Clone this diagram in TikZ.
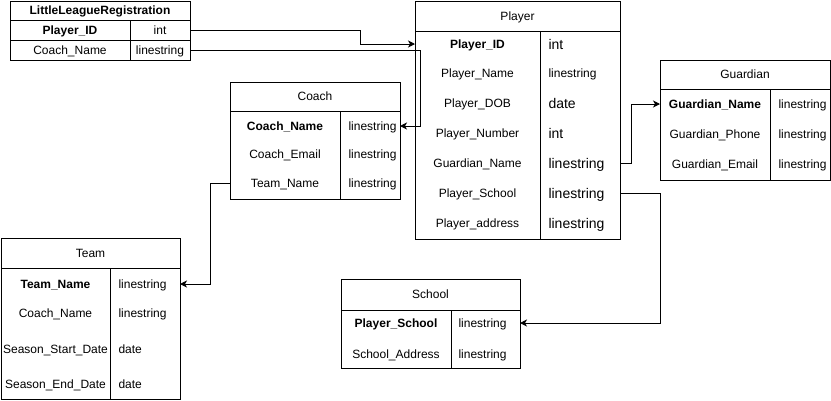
\documentclass[tikz,border=0pt]{standalone}
\usepackage{fontspec}
\setmainfont{Liberation Sans}
\usetikzlibrary{arrows.meta}
\begin{document}
\begin{tikzpicture}[x=1pt,y=-1pt,line width=1pt,
  frame/.style={draw,anchor=north west,inner sep=0pt,outer sep=0pt},
  txt/.style={inner sep=0pt,text height=8.6pt,text depth=0pt,font=\fontsize{12}{14}\selectfont},
  big/.style={inner sep=0pt,text height=10pt,text depth=0pt,font=\fontsize{14}{16}\selectfont},
  tl/.style={txt,anchor=west},
  bl/.style={big,anchor=west},
  conn/.style={draw,line width=1pt,-{Stealth[length=7pt,width=7pt,inset=2pt]}}]
\useasboundingbox (0,0) rectangle (831,400);
\fill[white] (0,0) rectangle (831,400);

% LittleLeagueRegistration
\node[frame,minimum width=180pt,minimum height=59pt] (llr) at (10,1) {};
\draw (10,20) -- (190,20);
\draw (10,40) -- (190,40);
\draw (130,20) -- (130,60);
\node[txt] (llrt) at (100,10.5) {\textbf{LittleLeagueRegistration}};
\node[txt] (llrpid) at (70,30) {\textbf{Player\_ID}};
\node[txt] (llrpidt) at (160,30) {int};
\node[txt] (llrcn) at (70,50) {Coach\_Name};
\node[txt] (llrcnt) at (160,50) {linestring};

% Player
\node[frame,minimum width=205pt,minimum height=238pt] (player) at (415,1) {};
\draw (415,31) -- (620,31);
\draw (540,31) -- (540,239);
\node[txt] (playert) at (477.5+40,16) {Player};
\node[txt] (pid) at (477.5,44) {\textbf{Player\_ID}};
\node[txt] (pname) at (477.5,73) {Player\_Name};
\node[txt] (pdob) at (477.5,103) {Player\_DOB};
\node[txt] (pnum) at (477.5,133) {Player\_Number};
\node[txt] (pguard) at (477.5,163) {Guardian\_Name};
\node[txt] (pschool) at (477.5,193) {Player\_School};
\node[txt] (paddr) at (477.5,223) {Player\_address};
\node[bl] (pidt) at (548,44) {int};
\node[tl] (pnamet) at (548,73) {linestring};
\node[bl] (pdobt) at (548,103) {date};
\node[bl] (pnumt) at (548,133) {int};
\node[bl] (pguardt) at (548,163) {linestring};
\node[bl] (pschoolt) at (548,193) {linestring};
\node[bl] (paddrt) at (548,223) {linestring};

% Coach
\node[frame,minimum width=170pt,minimum height=117pt] (coach) at (230,82) {};
\draw (230,111) -- (400,111);
\draw (340,111) -- (340,199);
\node[txt] (coacht) at (315,96.5) {Coach};
\node[txt] (ccn) at (285,126) {\textbf{Coach\_Name}};
\node[txt] (cce) at (285,154) {Coach\_Email};
\node[txt] (ctn) at (285,183) {Team\_Name};
\node[tl] (ccnt) at (348,126) {linestring};
\node[tl] (ccet) at (348,154) {linestring};
\node[tl] (ctnt) at (348,183) {linestring};

% Guardian
\node[frame,minimum width=170pt,minimum height=120pt] (guard) at (660,60) {};
\draw (660,89) -- (830,89);
\draw (770,89) -- (770,180);
\node[txt] (guardt) at (745,74.5) {Guardian};
\node[txt] (gname) at (715,104) {\textbf{Guardian\_Name}};
\node[txt] (gphone) at (715,134) {Guardian\_Phone};
\node[txt] (gemail) at (715,164) {Guardian\_Email};
\node[tl] (gnamet) at (778,104) {linestring};
\node[tl] (gphonet) at (778,134) {linestring};
\node[tl] (gemailt) at (778,164) {linestring};

% Team
\node[frame,minimum width=179pt,minimum height=161pt] (team) at (1,238) {};
\draw (1,268) -- (180,268);
\draw (110,268) -- (110,399);
\node[txt] (teamt) at (90.5,253) {Team};
\node[txt] (tname) at (55.5,284) {\textbf{Team\_Name}};
\node[txt] (tcoach) at (55.5,313) {Coach\_Name};
\node[txt] (tstart) at (55.5,349) {Season\_Start\_Date};
\node[txt] (tend) at (55.5,384) {Season\_End\_Date};
\node[tl] (tnamet) at (118,284) {linestring};
\node[tl] (tcoacht) at (118,313) {linestring};
\node[tl] (tstartt) at (118,349) {date};
\node[tl] (tendt) at (118,384) {date};

% School
\node[frame,minimum width=179pt,minimum height=89pt] (school) at (341,279) {};
\draw (341,310) -- (520,310);
\draw (451,310) -- (451,368);
\node[txt] (schoolt) at (430.5,294.5) {School};
\node[txt] (sps) at (396,323) {\textbf{Player\_School}};
\node[txt] (sad) at (396,354) {School\_Address};
\node[tl] (spst) at (458,323) {linestring};
\node[tl] (sadt) at (458,354) {linestring};

% connectors
\draw[conn] (llr.east |- llrpid) -- (360,30) |- (player.west |- pid);
\draw[conn] (llr.east |- llrcn) -- (420,50) |- (coach.east |- ccn);
\draw[conn] (coach.west |- ctn) -- (210,183) |- (team.east |- tname);
\draw[conn] (player.east |- pguard) -- (631,163) |- (guard.west |- gname);
\draw[conn] (player.east |- pschool) -- (660,193) |- (school.east |- sps);
\end{tikzpicture}
\end{document}
